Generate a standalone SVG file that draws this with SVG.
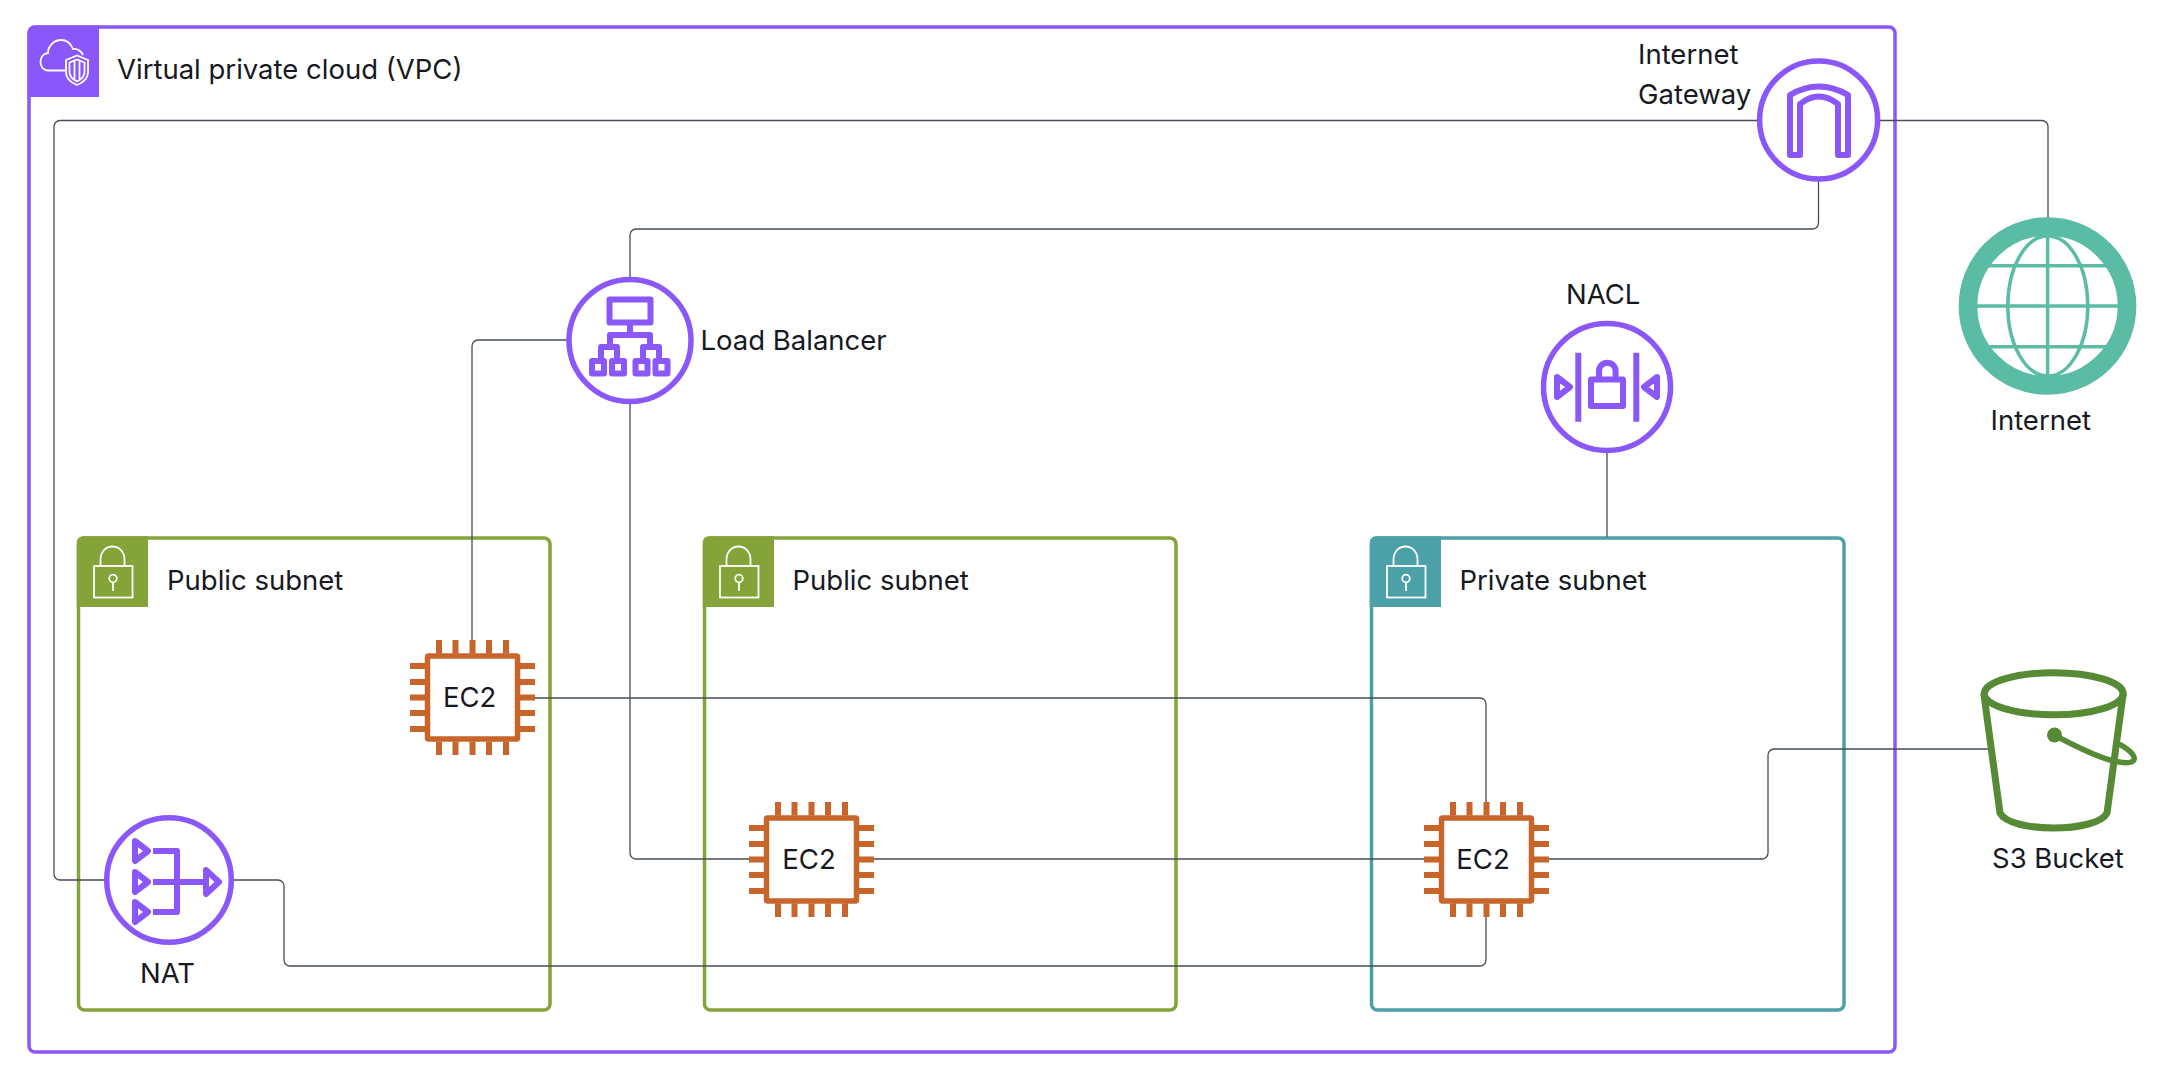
<svg xmlns="http://www.w3.org/2000/svg" xmlns:xlink="http://www.w3.org/1999/xlink" width="2164" height="1078" viewBox="0 0 2164 1078">
<style>
text{font-family:"Inter","Liberation Sans",sans-serif;font-size:27.500px;fill:#16191f}
.conn{fill:none;stroke:#464d57;stroke-width:1.300}
.ring{fill:#fff;stroke:#8a57fb;stroke-width:5.500}
.ic{fill:none;stroke:#8a57fb;stroke-width:6;stroke-linejoin:round}
.wh{fill:none;stroke:#fff;stroke-width:1.800}
.pin{stroke:#c8652b;stroke-width:6}
.globe{fill:none;stroke:#5bbca5;stroke-width:3.500}
.s3{fill:none;stroke:#568a35;stroke-width:7;stroke-linejoin:round;stroke-linecap:round}
</style>
<defs>
<g id="chip">
<rect x="-45" y="-41.500" width="90" height="83" rx="1" fill="#fff" stroke="#c8652b" stroke-width="5.500"/>
<path class="pin" d="M-33.500-57.500V-44M-17-57.500V-44M0-57.500V-44M16.500-57.500V-44M33.500-57.500V-44M-33.500 44V57.500M-17 44V57.500M0 44V57.500M16.500 44V57.500M33.500 44V57.500M-62.500-31.500H-47M-62.500-15.500H-47M-62.500 0H-47M-62.500 15.500H-47M-62.500 31.500H-47M47-31.500H62.500M47-15.500H62.500M47 0H62.500M47 15.500H62.500M47 31.500H62.500"/>
</g>
<g id="lock">
<rect x="16" y="29" width="38.500" height="31.500" class="wh"/>
<path class="wh" d="M22.500 29V23C22.500 5 46.500 5 46.500 23V29"/>
<circle cx="35" cy="41.500" r="3.800" class="wh"/>
<path class="wh" d="M35 45.300V54"/>
</g>
</defs>

<g id="vpc">
<rect x="29" y="27" width="1866" height="1025" rx="6" fill="#fff" stroke="#8a57fb" stroke-width="3.500"/>
<path d="M27.500 33A7 7 0 0 1 34.500 25.500H99V97H27.500Z" fill="#8a57fb"/>
<path class="wh" d="M65 70.500H48C43 70.500 40.500 66 40.500 62C40.500 57 43.500 53.500 48 53C48 46 54 40 61 40C67 40 71 44 73 49C77 48.500 81 51 83 55"/>
<path class="wh" d="M66 60L77 55.500L88 60V72C88 79 82 83 77 85C72 83 66 79 66 72Z"/>
<path class="wh" d="M69.500 62.500L77 59.500L84.500 62.500V72C84.500 76.500 81 79.500 77 81.500C73 79.500 69.500 76.500 69.500 72Z"/>
<path class="wh" d="M74.500 60.500V80M79.500 60.500V80"/>
<text x="117" y="79">Virtual private cloud (VPC)</text>
</g>

<g id="subnet-public-1">
<rect x="78.500" y="538" width="471.500" height="472" rx="6" fill="#fff" stroke="#84a338" stroke-width="3.500"/>
<path d="M76.750 542A6 6 0 0 1 83 536.250H148V607H76.750Z" fill="#84a338"/>
<use xlink:href="#lock" href="#lock" x="78" y="537"/>
<text x="167" y="590">Public subnet</text>
</g>
<g id="subnet-public-2">
<rect x="704.500" y="538" width="471.500" height="472" rx="6" fill="#fff" stroke="#84a338" stroke-width="3.500"/>
<path d="M702.750 542A6 6 0 0 1 709 536.250H774V607H702.750Z" fill="#84a338"/>
<use xlink:href="#lock" href="#lock" x="704" y="537"/>
<text x="792.500" y="590">Public subnet</text>
</g>
<g id="subnet-private">
<rect x="1371.500" y="538" width="472.500" height="472" rx="6" fill="#fff" stroke="#4ba1a7" stroke-width="3.500"/>
<path d="M1369.750 542A6 6 0 0 1 1376 536.250H1441V607H1369.750Z" fill="#4ba1a7"/>
<use xlink:href="#lock" href="#lock" x="1371" y="537"/>
<text x="1459.500" y="590">Private subnet</text>
</g>

<g id="connectors">
<path class="conn" d="M1757 120.500H60A6 6 0 0 0 54 126.500V874A6 6 0 0 0 60 880H104"/>
<path class="conn" d="M1818.500 181V223A6 6 0 0 1 1812.500 229H636A6 6 0 0 0 630 235V277"/>
<path class="conn" d="M567 340H478A6 6 0 0 0 472 346V640"/>
<path class="conn" d="M630 403V853A6 6 0 0 0 636 859H750"/>
<path class="conn" d="M873 859H1424"/>
<path class="conn" d="M535 698H1480A6 6 0 0 1 1486 704V802"/>
<path class="conn" d="M234 880H278A6 6 0 0 1 284 886V960A6 6 0 0 0 290 966H1480A6 6 0 0 0 1486 960V917"/>
<path class="conn" d="M1549 859H1762A6 6 0 0 0 1768 853V755A6 6 0 0 1 1774 749H1988"/>
<path class="conn" d="M1880 120.500H2042A6 6 0 0 1 2048 126.500V218"/>
<path class="conn" d="M1607 452V537"/>
</g>

<g id="igw">
<circle class="ring" cx="1818.600" cy="120" r="59"/>
<path class="ic" d="M1790 155V95Q1818.600 78 1848 95V155H1838V104Q1818.600 89 1800 104V155Z"/>
<text x="1638" y="64">Internet</text>
<text x="1638" y="103.500">Gateway</text>
</g>
<g id="load-balancer">
<circle class="ring" cx="630" cy="340.500" r="61"/>
<path class="ic" d="M609.500 299.500H650.500V322.500H609.500ZM630 322.500V335M610 345V335H650V345M601 358V347H617V358M643 358V347H659V358"/>
<path class="ic" d="M592 361H604V373.500H592ZM612 361H624V373.500H612ZM635.500 361H647.500V373.500H635.500ZM655.500 361H667.500V373.500H655.500Z"/>
<text x="700.500" y="350">Load Balancer</text>
</g>
<g id="nacl">
<circle class="ring" cx="1607" cy="387" r="63.500"/>
<path class="ic" d="M1578.300 352.700V421.700M1636.300 352.700V421.700"/>
<path class="ic" d="M1591 379.500H1623V406H1591ZM1599 380V371A8.300 8.300 0 0 1 1615.600 371V380M1557 377L1570 387L1557 397ZM1657 377L1644 387L1657 397Z"/>
<text x="1566" y="303.500">NACL</text>
</g>
<g id="nat">
<circle class="ring" cx="169" cy="880" r="62.300"/>
<path class="ic" d="M135 841L148 851L135 861ZM135 872L148 882L135 892ZM135 902L148 912L135 922ZM206 870L219 882L206 894ZM153 851H177V912H153M153 882H206"/>
<text x="140" y="983">NAT</text>
</g>
<g id="internet">
<path class="globe" d="M2047.600 230V380M1975 306H2120M1985 265.700H2110M1985 346.700H2110"/>
<ellipse class="globe" cx="2047.800" cy="306" rx="40" ry="70"/>
<circle cx="2047.500" cy="306" r="79.500" fill="none" stroke="#5bbca5" stroke-width="18.700"/>
<text x="1990.500" y="429.500">Internet</text>
</g>
<g id="s3-bucket">
<ellipse class="s3" cx="2053.700" cy="693.700" rx="69.500" ry="21"/>
<path class="s3" d="M1984 695L2000 813C2010 833 2097 833 2107 813L2123 695"/>
<circle cx="2054.500" cy="735" r="7.500" fill="#568a35"/>
<path d="M2054 735C2075 746 2095 756 2110 760C2125 764 2136 764 2134 757C2132 751 2124 747 2121 745" fill="none" stroke="#568a35" stroke-width="5.500" stroke-linecap="round"/>
<text x="1992" y="868">S3 Bucket</text>
</g>
<g id="ec2-1"><use xlink:href="#chip" href="#chip" x="472.500" y="697.500"/><text x="469.700" y="707" text-anchor="middle">EC2</text></g>
<g id="ec2-2"><use xlink:href="#chip" href="#chip" x="811.500" y="859.500"/><text x="809" y="869" text-anchor="middle">EC2</text></g>
<g id="ec2-3"><use xlink:href="#chip" href="#chip" x="1486.500" y="859.500"/><text x="1483" y="869" text-anchor="middle">EC2</text></g>
</svg>
